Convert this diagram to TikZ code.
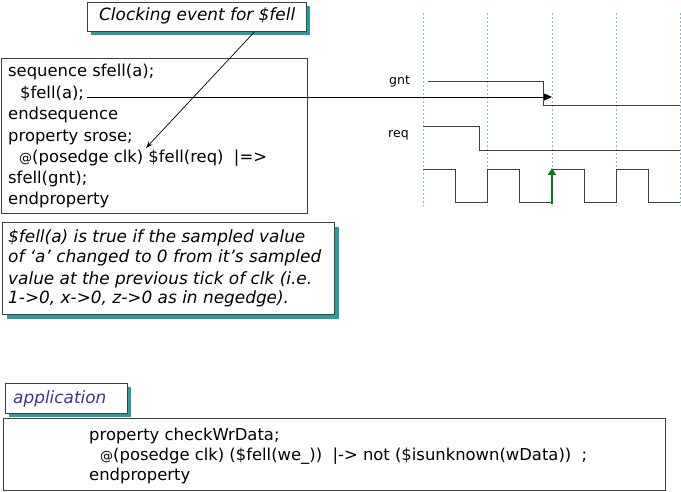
\documentclass[tikz,border=0pt]{standalone}
\usepackage{fontspec}
\setmainfont{DejaVu Sans}
\usetikzlibrary{arrows.meta,calc}
\definecolor{shadowteal}{RGB}{38,158,160}
\definecolor{edgegray}{RGB}{64,64,64}
\definecolor{gridblue}{RGB}{120,190,222}
\definecolor{appblue}{RGB}{62,52,150}
\definecolor{clkgreen}{RGB}{0,128,20}
\begin{document}
\begin{tikzpicture}[x=1pt,y=-1pt,
  box/.style={draw=edgegray, line width=0.9pt, fill=white, anchor=north west, inner sep=0pt},
  shade/.style={fill=shadowteal},
  codetxt/.style={anchor=base west, inner sep=0pt, font=\fontsize{16.4}{20}\selectfont},
  ittxt/.style={anchor=base west, inner sep=0pt, font=\fontsize{16.9}{20}\selectfont\itshape},
  lbl/.style={anchor=base west, inner sep=0pt, font=\fontsize{12.5}{14}\selectfont},
  wave/.style={draw=edgegray, line width=1pt},
  grid/.style={draw=gridblue, line width=0.6pt, dash pattern=on 2pt off 2pt},
  ptr/.style={draw=black, line width=0.7pt, -{Stealth[length=7pt,width=5pt]}},
  hptr/.style={draw=black, line width=0.8pt, -{Triangle[length=8pt,width=7pt]}},
  gptr/.style={draw=clkgreen, line width=2pt, -{Triangle[length=7pt,width=8pt]}}
]
\useasboundingbox (0,0) rectangle (681,492);
\fill[white] (0,0) rectangle (681,492);

% ---- title box
\fill[shade] (91,6) rectangle (310,35);
\node[box, minimum width=219pt, minimum height=29pt] (titlebox) at (87,2) {};
\node[ittxt] (titletext) at (99,21) {Clocking event for \$fell};

% ---- upper code box
\node[box, minimum width=306pt, minimum height=155pt] (codebox) at (1,58) {};
\node[codetxt] (l1) at (8,77) {sequence sfell(a);};
\node[codetxt] (fella) at (20,99) {\$fell(a);};
\node[codetxt] (l3) at (8,120) {endsequence};
\node[codetxt] (l4) at (8,142) {property srose;};
\node[codetxt] (l5) at (19,163) {{\fontsize{13}{13}\selectfont @}(posedge clk) \$fell(req) \ |=>};
\node[codetxt] (l6) at (8,184) {sfell(gnt);};
\node[codetxt] (l7) at (8,205) {endproperty};

% ---- explanation box
\fill[shade] (7,227) rectangle (339,319);
\node[box, minimum width=332pt, minimum height=92pt] (expbox) at (2,222) {};
\node[ittxt] (e1) at (8,243) {\$fell(a) is true if the sampled value};
\node[ittxt] (e2) at (8,263) {of ‘a’ changed to 0 from it’s sampled};
\node[ittxt] (e3) at (8,284) {value at the previous tick of clk (i.e.};
\node[ittxt] (e4) at (8,304) {1->0, x->0, z->0 as in negedge).};

% ---- waveforms
\foreach \x in {423,487,552,616,680} \draw[grid] (\x,13) -- (\x,206);
\node[lbl] (gntlbl) at (389,85) {gnt};
\node[lbl] (reqlbl) at (388,138) {req};
\draw[wave] (428,82) -- (543,82) -- (543,106) -- (680,106);
\draw[wave] (423,127) -- (479,127) -- (479,151) -- (680,151);
\draw[wave] (423,170) -- (455,170) -- (455,203) -- (487,203) -- (487,170) -- (519,170)
  -- (519,203) -- (552,203) -- (552,170) -- (584,170) -- (584,203) -- (616,203)
  -- (616,170) -- (648,170) -- (648,203) -- (680,203);
\coordinate (gntpt) at (552,97);
\coordinate (clkbase) at (552,204);
\coordinate (clktop) at (552,168);
\draw[gptr] (clkbase) -- (clktop);

% ---- connectors
\coordinate (fa) at ([xshift=3pt]fella.east);
\draw[hptr] (fa |- gntpt) -- (gntpt);
\coordinate (fellreq) at (146,148);
\draw[ptr] ([xshift=57.5pt]titlebox.south) -- (fellreq);

% ---- application
\fill[shade] (9,387) rectangle (131,417);
\node[box, minimum width=122pt, minimum height=30pt] (appbox) at (5,383) {};
\node[ittxt, text=appblue] (apptext) at (13,403) {application};
\node[box, minimum width=662pt, minimum height=72pt] (appcode) at (3,418) {};
\node[codetxt] (b1) at (89,440) {property checkWrData;};
\node[codetxt] (b2) at (100,460) {{\fontsize{13}{13}\selectfont @}(posedge clk) (\$fell(we\_)) \ |-> not (\$isunknown(wData)) \ ;};
\node[codetxt] (b3) at (89,480) {endproperty};
\end{tikzpicture}
\end{document}
